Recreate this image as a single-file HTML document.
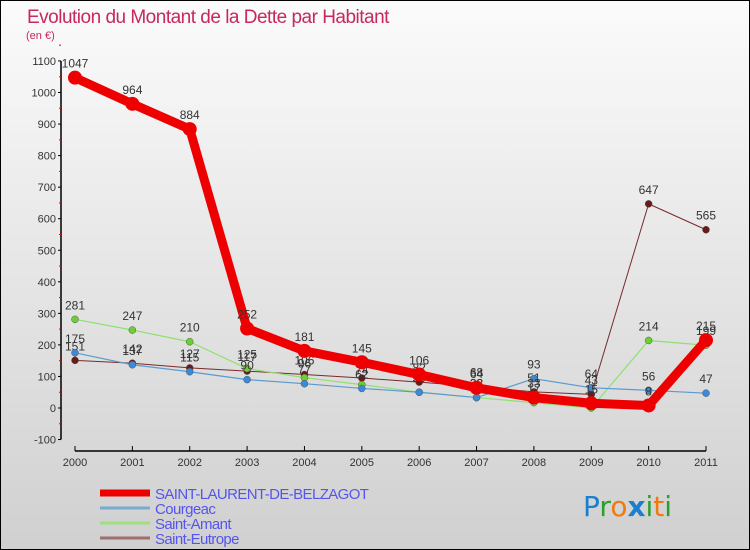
<!DOCTYPE html>
<html><head><meta charset="utf-8"><style>
body{margin:0;width:750px;height:550px;overflow:hidden;font-family:"Liberation Sans",sans-serif}
#wrap{position:absolute;left:0;top:0;width:748px;height:548px;border:1px solid #000;background:linear-gradient(#fbfbfb,#d0d0d0)}
</style></head><body>
<div id="wrap">
<svg id="chart" width="750" height="550" style="position:absolute;left:-1px;top:-1px">
<text x="27" y="23" font-size="19" fill="#c8285a" style="letter-spacing:-0.5px">Evolution du Montant de la Dette par Habitant</text>
<text x="26" y="39" font-size="11" fill="#c8285a">(en €)</text>
<g id="axes"></g><g id="series"></g><g id="legend"></g>
<text x="583" y="516" font-size="28" font-family="DejaVu Sans, sans-serif"><tspan fill="#1a7fd0">P</tspan><tspan fill="#2aa02a">r</tspan><tspan fill="#f07a10">o</tspan><tspan fill="#1a7fd0" font-weight="bold">x</tspan><tspan fill="#2aa02a">i</tspan><tspan fill="#f07a10">t</tspan><tspan fill="#2aa02a">i</tspan></text>
</svg>
</div>
<script>
const years=[2000,2001,2002,2003,2004,2005,2006,2007,2008,2009,2010,2011];
const yTicks=[-100,0,100,200,300,400,500,600,700,800,900,1000,1100];
const stLaurent=[1047,964,884,252,181,145,106,64,33,15,8,215];
const courgeac=[175,137,115,90,77,62,50,33,93,64,56,47];
const saintAmant=[281,247,210,125,96,74,50,33,17,0,214,199];
const saintEutrope=[151,142,127,117,106,95,82,68,51,43,647,565];
const NS="http://www.w3.org/2000/svg";
const X=i=>75+i*(706-75)/11;
const Y=v=>408-v*0.3155;
function mk(tag,attrs,parent,text){const e=document.createElementNS(NS,tag);for(const k in attrs)e.setAttribute(k,attrs[k]);if(text!==undefined)e.textContent=text;parent.appendChild(e);return e;}
const ax=document.getElementById('axes');
let yl=mk('line',{x1:61,y1:Y(1100),x2:61,y2:Y(-100),stroke:'#000','stroke-width':1.5},ax);


yTicks.forEach(t=>{
 mk('line',{x1:58,y1:Y(t),x2:61,y2:Y(t),stroke:'#000'},ax);
 mk('line',{x1:59,y1:Y(t+50),x2:61,y2:Y(t+50),stroke:'#e00'},ax);
 const tx=mk('text',{x:56,y:Y(t)+4,'font-size':11,fill:'#333','text-anchor':'end'},ax,t);
 
 
});
let xl=mk('line',{x1:75,y1:451,x2:706,y2:451,stroke:'#000','stroke-width':1.5},ax);


years.forEach((y,i)=>{
 mk('line',{x1:X(i),y1:446,x2:X(i),y2:451,stroke:'#000'},ax);
 const tx=mk('text',{x:X(i),y:466,'font-size':11,fill:'#333','text-anchor':'middle'},ax,y);
 
 
});
const sg=document.getElementById('series');
function draw(vals,color,w,r,dot,name,lblColor){
 const g=mk('g',{},sg);
 
 
 const line=mk('polyline',{points:vals.map((v,i)=>X(i)+','+Y(v)).join(' '),fill:'none',stroke:color,'stroke-width':w,'stroke-linejoin':'round'},g);
 
 
 vals.forEach((v,i)=>{
  const c=mk('circle',{cx:X(i),cy:Y(v),r:r,fill:dot,stroke:r>5?'none':'#555','stroke-width':0.5},g);
  
  
  const t=mk('text',{x:X(i),y:Y(v)-10,'font-size':12,fill:'#333','text-anchor':'middle'},g,v);
  
  
 });
}
draw(saintEutrope,'#7a2a2a',1,3.5,'#6a1a1a','saint-eutrope');
draw(saintAmant,'#8ee070',1.2,3.5,'#6cd030','saint-amant');
draw(courgeac,'#5a9ad0',1.2,3.5,'#3a8ad8','courgeac');
draw(stLaurent,'#ee0000',9,7,'#ee0000','saint-laurent-de-belzagot');
const lg=document.getElementById('legend');
const items=[['SAINT-LAURENT-DE-BELZAGOT','#ee0000',7],['Courgeac','#7aaad0',3],['Saint-Amant','#9ee080',3],['Saint-Eutrope','#a07070',3]];
items.forEach((it,i)=>{
 const y=493+i*15;
 const g=mk('g',{},lg);
 
 
 mk('line',{x1:100,y1:y,x2:150,y2:y,stroke:it[1],'stroke-width':it[2]},g);
 mk('text',{x:155,y:y+6,'font-size':15,fill:'#5555ee',style:'letter-spacing:-0.6px'},g,it[0]);
});
</script>
</body></html>
